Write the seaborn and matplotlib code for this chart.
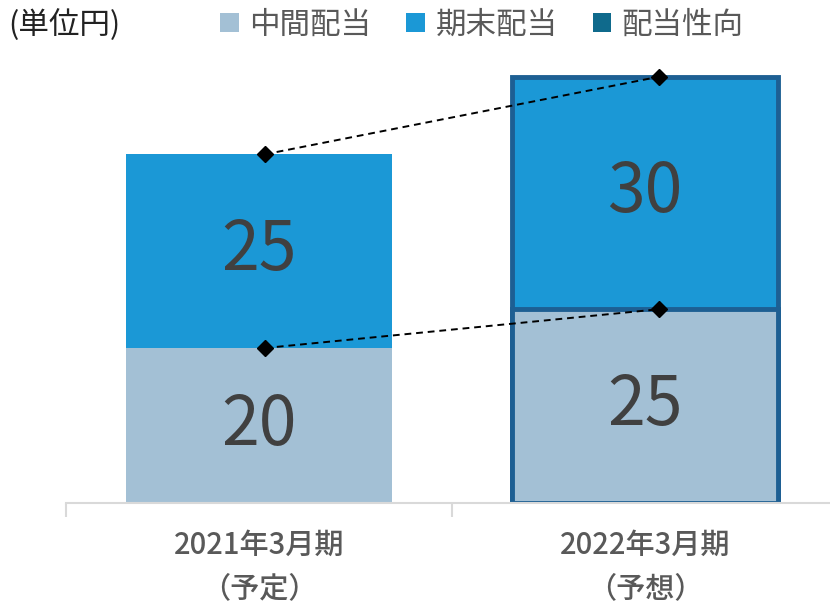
import matplotlib
matplotlib.use("Agg")
import matplotlib.pyplot as plt
import seaborn as sns
import pandas as pd
from matplotlib.patches import Patch

categories = ["2021年3月期\n（予定）", "2022年3月期\n（予想）"]
interim = [20, 25]
year_end = [25, 30]
legend_labels = ["中間配当", "期末配当", "配当性向"]
unit_label = "(単位円)"

c_interim = "#a3c0d5"
c_yearend = "#1b98d6"
c_ratio = "#0f6a8c"
c_edge = "#1d5f93"

sns.set_theme(style="white")
plt.rcParams["font.family"] = ["Noto Sans CJK JP", "DejaVu Sans"]

totals = [a + b for a, b in zip(interim, year_end)]
df = pd.DataFrame({"cat": categories, "interim": interim, "year_end": year_end, "total": totals})

fig = plt.figure(figsize=(8.3, 6.11), dpi=100)
ax = fig.add_axes([66 / 830, 108 / 611, 772 / 830, 465 / 611])

sns.barplot(data=df, x="cat", y="total", color=c_yearend, width=0.69, saturation=1, ax=ax)
sns.barplot(data=df, x="cat", y="interim", color=c_interim, width=0.69, saturation=1, ax=ax)

patches = ax.patches
for i, p in enumerate(patches):
    if i % 2 == 1:
        p.set_edgecolor(c_edge)
        p.set_linewidth(3.5)
    else:
        p.set_linewidth(0)

# dashed connectors
xs = [0.016, 1.036]
ax.plot(xs, totals, linestyle=(0, (3.5, 2.5)), color="black", lw=1.4,
        marker="D", markersize=8, zorder=5)
ax.plot(xs, interim, linestyle=(0, (3.5, 2.5)), color="black", lw=1.4,
        marker="D", markersize=8, zorder=5)

# value labels
for i in range(len(categories)):
    ax.text(i, interim[i] / 2, str(interim[i]), ha="center", va="center",
            fontsize=49, color="#404040")
    ax.text(i, interim[i] + year_end[i] / 2, str(year_end[i]), ha="center", va="center",
            fontsize=49, color="#404040")

ax.set_xlim(-0.5, 1.5)
ax.set_ylim(0, 60)
ax.set_xlabel("")
ax.set_ylabel("")
ax.set_yticks([])
for s in ["left", "right", "top"]:
    ax.spines[s].set_visible(False)
ax.spines["bottom"].set_color("#d9d9d9")
ax.spines["bottom"].set_linewidth(1.5)

ax.set_xticks([0, 1])
ax.set_xticklabels(categories, fontsize=21, color="#595959", linespacing=1.55,
                   fontweight="medium")
ax.tick_params(axis="x", which="major", length=0, pad=19)
ax.set_xticks([-0.5, 0.5, 1.5], minor=True)
ax.tick_params(axis="x", which="minor", length=10, width=1.5, color="#d9d9d9", bottom=True)

handles = [Patch(facecolor=c, edgecolor="none") for c in (c_interim, c_yearend, c_ratio)]
fig.legend(handles, legend_labels, loc="center", bbox_to_anchor=(482 / 830, 1 - 25 / 611),
           ncol=3, frameon=False, fontsize=22, labelcolor="#595959",
           handlelength=0.6, handleheight=0.6, handletextpad=0.35, columnspacing=1.15)

fig.text(8 / 830, 1 - 25 / 611, unit_label, ha="left", va="center", fontsize=22, color="#222222")

fig.savefig("out.png", dpi=100)
